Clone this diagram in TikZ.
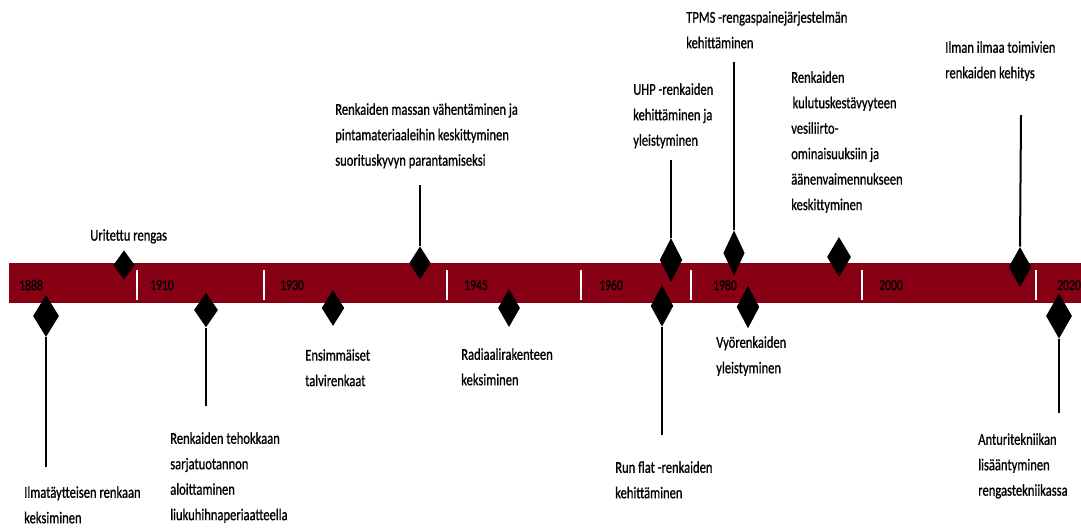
\documentclass[tikz,border=0pt]{standalone}
\usepackage{fontspec}
\setmainfont{Carlito}[FakeStretch=0.76, FakeBold=0.8]
\usepackage{tikz}
\usetikzlibrary{shapes.geometric}
\definecolor{TyreRed}{HTML}{870014}

\begin{document}
\begin{tikzpicture}[x=0.75pt, y=-0.75pt,
    milestone/.style={diamond, fill=black, inner sep=0pt, minimum width=17pt, minimum height=29pt},
    event/.style={anchor=north west, align=left, inner sep=0pt, font=\fontsize{12.4}{19.1}\selectfont},
    year/.style={font=\fontsize{11.5}{14}\selectfont},
    stem/.style={line width=1.5pt},
    yeartick/.style={white, line width=1.6pt}]
    \useasboundingbox (0,0) rectangle (1081,529);

    % Time bar
    \fill[TyreRed] (9,263) rectangle (1081,303);
    \foreach \x in {137,264,447,581,691,862,1036}
        \draw[yeartick] (\x,270) -- (\x,300);
    \foreach \x/\yr in {31/1888,162/1910,292/1930,476/1945,611/1960,725/1980,891/2000,1069/2020}
        \node[year] (y\yr) at (\x,285) {\yr};

    % Milestones above the bar
    \node[milestone, minimum width=16pt, minimum height=22pt] (d-uritettu) at (124,265) {};
    \node[milestone, minimum width=16pt, minimum height=25pt] (d-massa) at (420,263) {};
    \node[milestone, minimum height=33pt] (d-uhp) at (671,260) {};
    \node[milestone, minimum width=16pt, minimum height=34pt] (d-tpms) at (734,253) {};
    \node[milestone, minimum width=18pt, minimum height=30pt] (d-kulutus) at (839,257) {};
    \node[milestone, minimum height=30pt] (d-ilmaton) at (1020,267) {};

    % Milestones below the bar
    \node[milestone, minimum width=19.5pt, minimum height=31.5pt] (d-ilmatayte) at (46,316) {};
    \node[milestone, minimum width=18pt, minimum height=26pt] (d-sarja) at (206,310) {};
    \node[milestone, minimum height=27pt] (d-talvi) at (333,308) {};
    \node[milestone, minimum width=16.5pt, minimum height=28.5pt] (d-radiaali) at (509,308) {};
    \node[milestone, minimum height=31pt] (d-runflat) at (662,306) {};
    \node[milestone, minimum height=32pt] (d-vyo) at (748,307) {};
    \node[milestone, minimum width=19.5pt, minimum height=34pt] (d-anturi) at (1059,316) {};

    % Stems
    \coordinate (s-ilmatayte) at (46,467);
    \coordinate (s-sarja) at (206,406);
    \coordinate (s-massa) at (420,185);
    \coordinate (s-uhp) at (671,160);
    \coordinate (s-runflat) at (662,435);
    \coordinate (s-tpms) at (734,62);
    \coordinate (s-ilmaton) at (1021,115);
    \coordinate (s-anturi) at (1059,413);
    \draw[stem] (d-ilmatayte.south) -- (s-ilmatayte);
    \draw[stem] (d-sarja.south) -- (s-sarja);
    \draw[stem] (d-massa.north) -- (s-massa);
    \draw[stem] (d-uhp.north) -- (s-uhp);
    \draw[stem] (d-runflat.south) -- (s-runflat);
    \draw[stem] (d-tpms.north) -- (s-tpms);
    \draw[stem] (d-ilmaton.north) -- (s-ilmaton);
    \draw[stem] (d-anturi.south) -- (s-anturi);

    % Events
    \node[event] (uritettu) at (90,229) {Uritettu rengas};
    \node[event] (ilmatayte) at (24,486) {Ilmatäytteisen renkaan\\keksiminen};
    \node[event] (sarja) at (170,432) {Renkaiden tehokkaan\\sarjatuotannon\\aloittaminen\\liukuhihnaperiaatteella};
    \node[event] (talvi) at (305,349) {Ensimmäiset\\talvirenkaat};
    \node[event] (massa) at (335,103) {Renkaiden massan vähentäminen ja\\pintamateriaaleihin keskittyminen\\suorituskyvyn parantamiseksi};
    \node[event] (radiaali) at (461,348) {Radiaalirakenteen\\keksiminen};
    \node[event] (uhp) at (633,83) {UHP -renkaiden\\kehittäminen ja\\yleistyminen};
    \node[event] (runflat) at (615,461) {Run flat -renkaiden\\kehittäminen};
    \node[event] (tpms) at (686,11) {TPMS -rengaspainejärjestelmän\\kehittäminen};
    \node[event] (vyo) at (716,336) {Vyörenkaiden\\yleistyminen};
    \node[event] (kulutus) at (791,71) {Renkaiden\\\hspace{1pt}kulutuskestävyyteen\\vesiliirto-\\ominaisuuksiin ja\\äänenvaimennukseen\\keskittyminen};
    \node[event] (ilmaton) at (945,41) {Ilman ilmaa toimivien\\renkaiden kehitys};
    \node[event] (anturi) at (978,433) {Anturitekniikan\\lisääntyminen\\rengastekniikassa};
\end{tikzpicture}
\end{document}
